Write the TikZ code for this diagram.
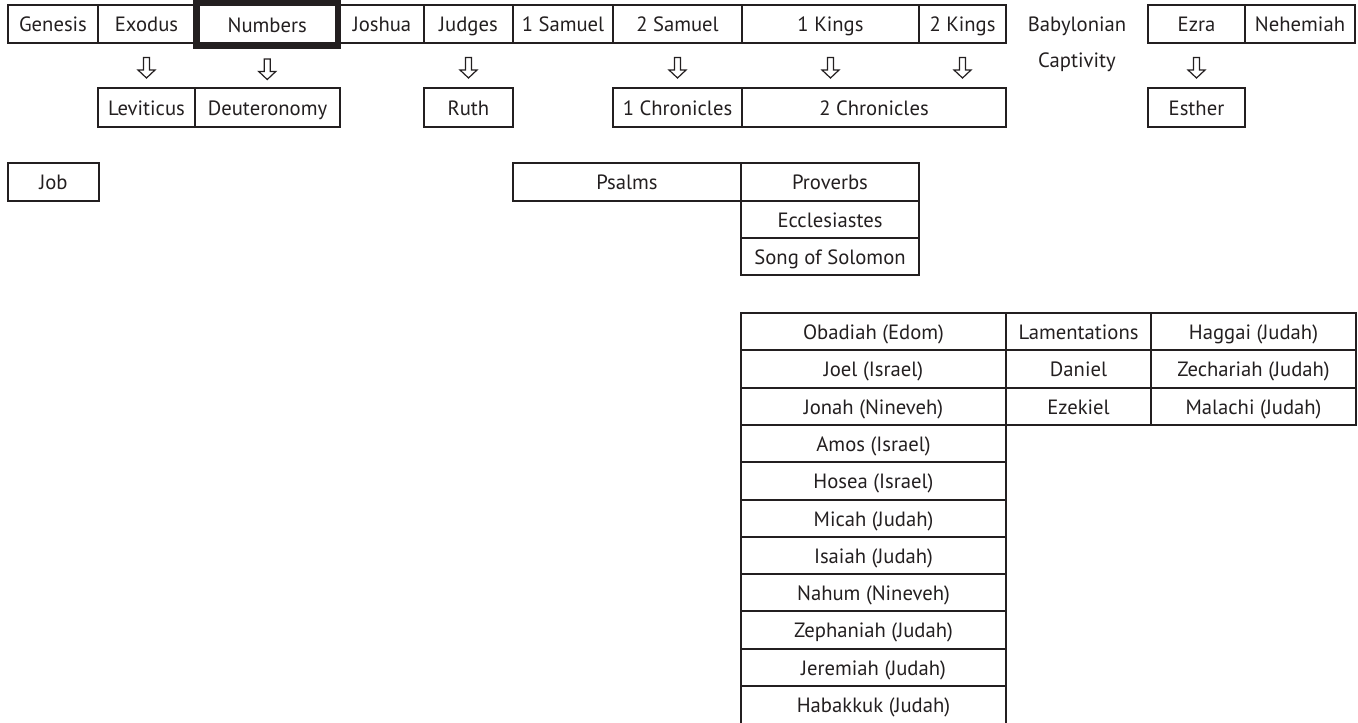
\documentclass[tikz,border=0pt]{standalone}
\usepackage{fontspec}
\setmainfont{PT Sans}
\usetikzlibrary{calc}
\definecolor{ink}{HTML}{231F20}
\tikzset{
  txt/.style={inner sep=0pt, outer sep=0pt, text=ink, font=\fontsize{15.5}{18}\selectfont, text height=11.9pt, text depth=0pt},
  cell/.style={txt, draw=ink, line width=1.5pt},
  boldcell/.style={line width=4.9pt},
  hollowarrow/.style={draw=ink, line width=0.9pt, line join=miter,
    to path={($(\tikztostart)!0.5!(\tikztotarget)+(-3,-7.75)$) -- ++(6,0) -- ++(0,12.5) -- ++(5.5,0) -- ++(-8.5,8) -- ++(-8.5,-8) -- ++(5.5,0) -- cycle}}
}
\newcommand\cellbox[7][]{\node[cell,#1,minimum width={(#5-#3)*0.75pt},minimum height={(#6-#4)*0.75pt}] (#2) at ({(#3+#5)/2},{(#4+#6)/2}) {#7};}
\begin{document}
\begin{tikzpicture}[x=0.75pt,y=-0.75pt]
\useasboundingbox (0,0) rectangle (1358,722);
\clip (0,0) rectangle (1358,722);
% row 1
\cellbox{gen}{8}{5}{98}{42.5}{Genesis}
\cellbox{exo}{98}{5}{195}{42.5}{Exodus}
\cellbox{jos}{340}{5}{424}{42.5}{Joshua}
\cellbox{jud}{424}{5}{513}{42.5}{Judges}
\cellbox{sa1}{513}{5}{613}{42.5}{1 Samuel}
\cellbox{sa2}{613}{5}{742}{42.5}{2 Samuel}
\cellbox{ki1}{742}{5}{919}{42.5}{1 Kings}
\cellbox{ki2}{919}{5}{1006}{42.5}{2 Kings}
\cellbox{ezr}{1148}{5}{1245}{42.5}{Ezra}
\cellbox{neh}{1245}{5}{1355}{42.5}{Nehemiah}
\cellbox[boldcell]{num}{196.5}{3}{338}{45.5}{Numbers}
\node[txt] (bab) at (1077,24) {Babylonian};
\node[txt] (cap) at (1077,59.5) {Captivity};
% row 2
\cellbox{lev}{98}{88}{195}{127}{Leviticus}
\cellbox{deu}{195}{88}{340}{127}{Deuteronomy}
\cellbox{rut}{424}{88}{513}{127}{Ruth}
\cellbox{ch1}{613}{88}{742}{127}{1 Chronicles}
\cellbox{ch2}{742}{88}{1006}{127}{2 Chronicles}
\cellbox{est}{1148}{88}{1245}{127}{Esther}
% arrows
\draw[hollowarrow] (exo.south) to (exo.south |- lev.north);
\draw[hollowarrow] (num.south) to (num.south |- deu.north);
\draw[hollowarrow] (jud.south) to (jud.south |- rut.north);
\draw[hollowarrow] (sa2.south) to (sa2.south |- ch1.north);
\draw[hollowarrow] (ki1.south) to (ki1.south |- ch2.north);
\draw[hollowarrow] (ki2.south) to (ki2.south |- ch2.north);
\draw[hollowarrow] (ezr.south) to (ezr.south |- est.north);
% wisdom
\cellbox{job}{8}{163}{99}{201}{Job}
\cellbox{psa}{513}{163}{741}{201}{Psalms}
\cellbox{pro}{741}{163}{919}{201}{Proverbs}
\cellbox{ecc}{741}{201}{919}{238}{Ecclesiastes}
\cellbox{sos}{741}{238}{919}{275}{Song of Solomon}
% prophets
\cellbox{oba}{741}{313}{1006}{350.3}{Obadiah (Edom)}
\cellbox{joe}{741}{350.3}{1006}{387.6}{Joel (Israel)}
\cellbox{jon}{741}{387.6}{1006}{424.9}{Jonah (Nineveh)}
\cellbox{amo}{741}{424.9}{1006}{462.2}{Amos (Israel)}
\cellbox{hos}{741}{462.2}{1006}{499.5}{Hosea (Israel)}
\cellbox{mic}{741}{499.5}{1006}{536.8}{Micah (Judah)}
\cellbox{isa}{741}{536.8}{1006}{574.1}{Isaiah (Judah)}
\cellbox{nah}{741}{574.1}{1006}{611.4}{Nahum (Nineveh)}
\cellbox{zep}{741}{611.4}{1006}{648.7}{Zephaniah (Judah)}
\cellbox{jer}{741}{648.7}{1006}{686}{Jeremiah (Judah)}
\cellbox{hab}{741}{686}{1006}{724}{Habakkuk (Judah)}
\cellbox{lam}{1006}{313}{1151}{350.3}{Lamentations}
\cellbox{dan}{1006}{350.3}{1151}{387.6}{Daniel}
\cellbox{eze}{1006}{387.6}{1151}{424.9}{Ezekiel}
\cellbox{hag}{1151}{313}{1356}{350.3}{Haggai (Judah)}
\cellbox{zec}{1151}{350.3}{1356}{387.6}{Zechariah (Judah)}
\cellbox{mal}{1151}{387.6}{1356}{424.9}{Malachi (Judah)}
\end{tikzpicture}
\end{document}
